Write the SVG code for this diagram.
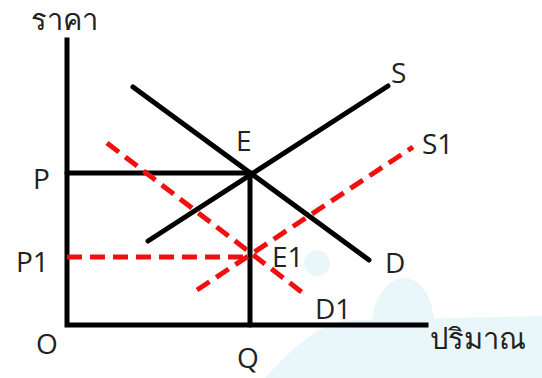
<svg xmlns="http://www.w3.org/2000/svg" width="542" height="378" viewBox="0 0 542 378">
<style>
.t{font-family:"Open Sans","Noto Sans","DejaVu Sans",sans-serif;font-size:28px;fill:#222}
.th{font-size:29px}
.ax{stroke:#000;stroke-width:5;fill:none;stroke-linecap:square}
.ln{stroke:#000;stroke-width:5;fill:none;stroke-linecap:round}
.dl{stroke:#f01010;stroke-width:5;fill:none;stroke-dasharray:15 8}
.bg{fill:#eaf7fa}
</style>
<rect width="542" height="378" fill="#fff"/>
<g id="background">
<path class="bg" d="M265 378 C290 350 320 322 350 320 L542 316 L542 378 Z"/>
<path class="bg" d="M372 322 C374 292 392 278 404 278 C418 278 432 292 434 322 Z"/>
<circle class="bg" cx="317" cy="263" r="13"/>
</g>
<g id="axes">
<path class="ax" d="M67 40 V325 H426"/>
<text class="t th" x="31" y="30">ราคา</text>
<text class="t th" x="430" y="349">ปริมาณ</text>
<text class="t" x="36" y="354">O</text>
</g>
<g id="connectors">
<path class="ln" d="M67 173 H250 V325"/>
<path class="dl" d="M67 257 H248"/>
<path class="ln" d="M133 87 L369 260"/>
<path class="ln" d="M148 241 L388 86"/>
<path class="dl" d="M197 290 L413 147"/>
<path class="dl" d="M107 143 L303 293"/>
</g>
<g id="P"><text class="t" x="33" y="189">P</text></g>
<g id="P1"><text class="t" x="16" y="272">P1</text></g>
<g id="Q"><text class="t" x="237" y="368">Q</text></g>
<g id="E"><text class="t" x="236" y="151">E</text></g>
<g id="E1"><text class="t" x="272" y="267">E1</text></g>
<g id="S"><text class="t" x="391" y="83">S</text></g>
<g id="S1"><text class="t" x="422" y="154">S1</text></g>
<g id="D"><text class="t" x="385" y="273">D</text></g>
<g id="D1"><text class="t" x="315" y="319">D1</text></g>
</svg>
